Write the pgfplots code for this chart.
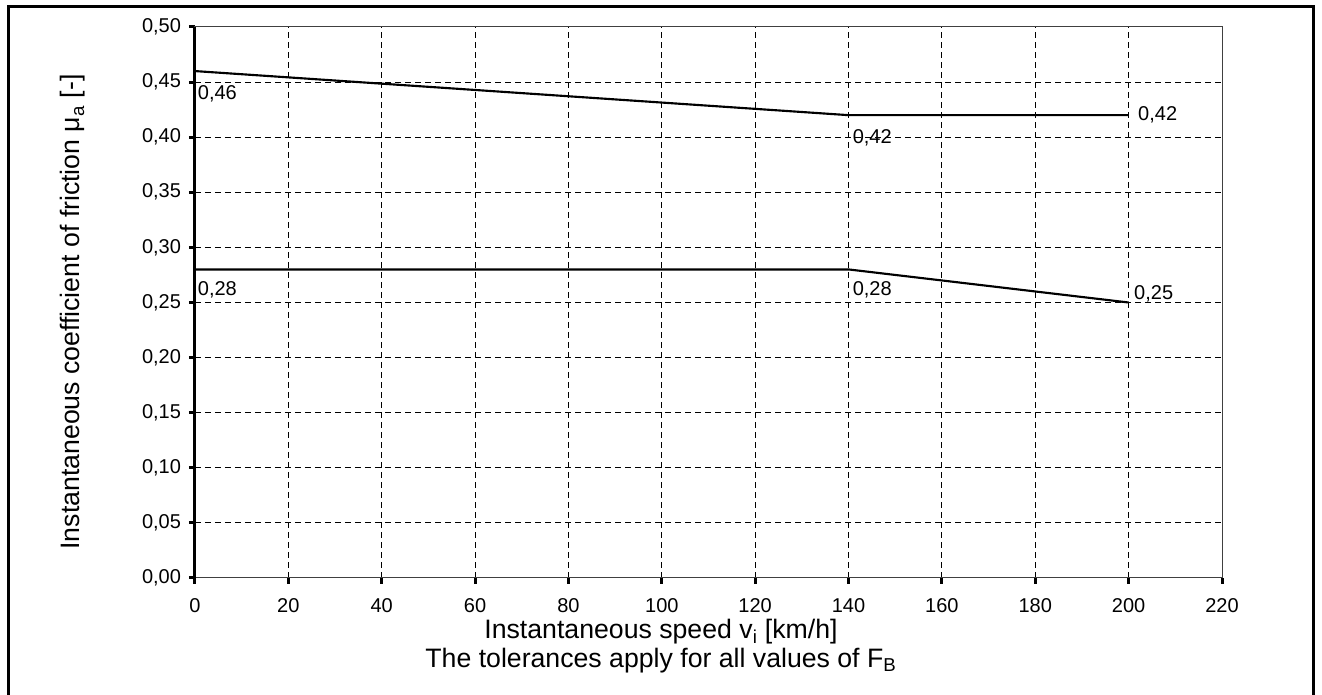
\documentclass[border=0pt]{standalone}
\usepackage{fontspec}
\setmainfont{Liberation Sans}
\usepackage{pgfplots}
\pgfplotsset{compat=1.18}

\begin{document}
\begin{tikzpicture}[x=1pt,y=1pt]
% 1 px of the reference = 0.75pt; origin at the lower left of the axis
\useasboundingbox (-146.25,-87.75) rectangle (845.25,433.5);
\draw[line width=2.25pt] (-139.5,-95) rectangle (838.5,428.25);
\begin{axis}[
    at={(0,0)}, anchor=south west,
    width=770.25pt, height=413.25pt,
    scale only axis,
    xmin=0, xmax=220,
    ymin=0, ymax=0.5,
    xtick={0,20,40,60,80,100,120,140,160,180,200,220},
    ytick={0,0.05,0.1,0.15,0.2,0.25,0.3,0.35,0.4,0.45,0.5},
    xtick pos=bottom, ytick pos=left,
    grid=major,
    major grid style={black, line width=0.75pt, dash pattern=on 4.5pt off 3pt},
    axis line style={black!75, line width=0.75pt},
    tick align=outside,
    major tick length=4.5pt,
    tick style={black, line width=2.25pt},
    /pgf/number format/assume math mode=true,
    ticklabel style={font=\fontsize{15}{18}\selectfont},
    yticklabel style={xshift=-2.5pt, /pgf/number format/.cd, fixed, fixed zerofill, precision=2, use comma},
    xticklabel style={yshift=-7.5pt, /pgf/number format/.cd, fixed},
    clip=false,
]
\addplot[black, line width=1.6pt] coordinates {(0,0.46) (140,0.42) (200,0.42)};
\addplot[black, line width=1.6pt] coordinates {(0,0.28) (140,0.28) (200,0.25)};
\draw[black, line width=2.25pt] (rel axis cs:0,0) -- (rel axis cs:0,1);
\begin{scope}[every node/.style={font=\fontsize{15}{18}\selectfont, inner sep=1pt}]
\node[anchor=north west, xshift=1pt, yshift=-10pt] at (axis cs:0,0.46) {0,46};
\node[anchor=north west, xshift=2pt, yshift=-9.5pt] at (axis cs:140,0.42) {0,42};
\node[anchor=west, xshift=6pt] at (axis cs:200,0.42) {0,42};
\node[anchor=north west, xshift=1pt, yshift=-8pt] at (axis cs:0,0.28) {0,28};
\node[anchor=north west, xshift=2pt, yshift=-8pt] at (axis cs:140,0.28) {0,28};
\node[anchor=base west, xshift=3pt, yshift=2pt] at (axis cs:200,0.25) {0,25};
\end{scope}
\end{axis}
\node[font=\fontsize{20}{24}\selectfont] at (349.5,-40.5) {Instantaneous speed v\textsubscript{i} [km/h]};
\node[font=\fontsize{20}{24}\selectfont] at (349.5,-62) {The tolerances apply for all values of F\textsubscript{B}};
\node[font=\fontsize{20}{24}\selectfont, rotate=90] at (-91.5,199.5) {Instantaneous coefficient of friction μ\textsubscript{a} [-]};
\end{tikzpicture}
\end{document}
